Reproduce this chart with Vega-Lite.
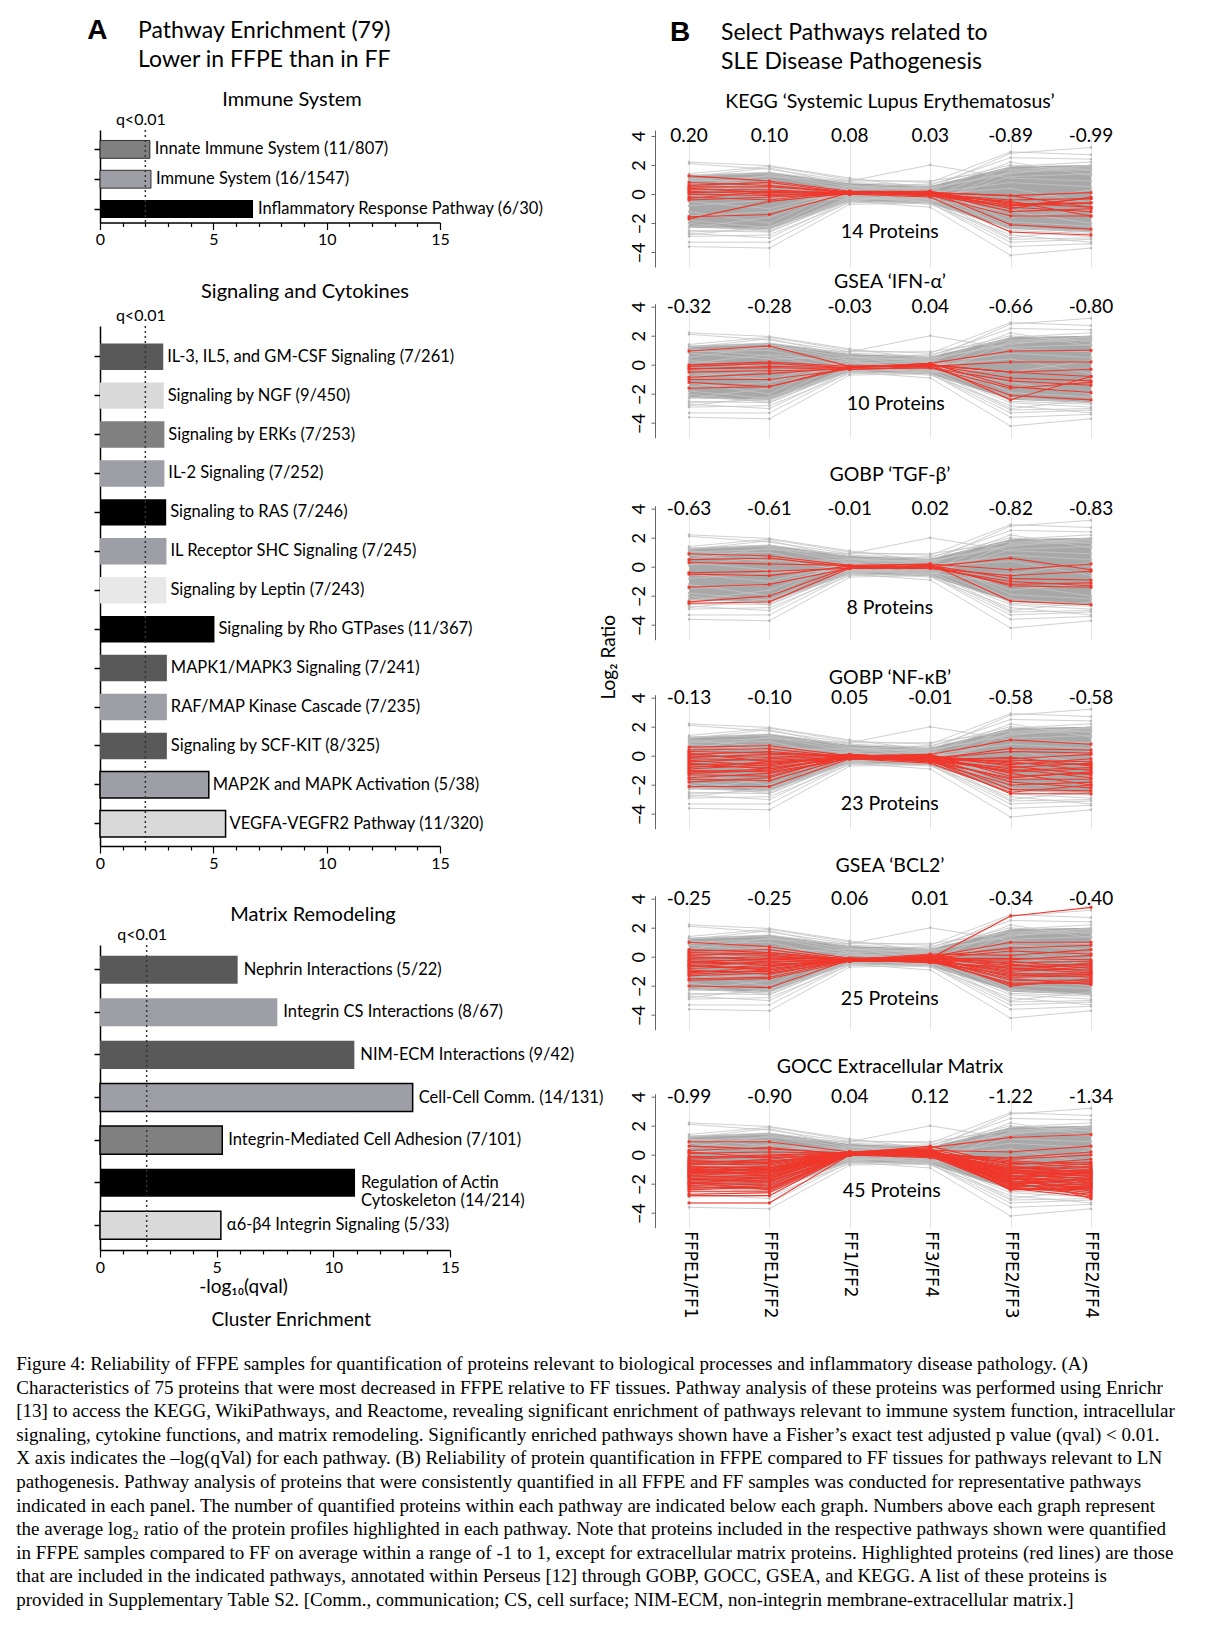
{
"$schema": "https://vega.github.io/schema/vega-lite/v6.json",
"padding": {"left": 16, "top": 17, "right": 0, "bottom": 0},
"background": "white",
"config": {"font": "Lato", "view": {"stroke": null}, "title": {"fontWeight": "normal", "color": "#000"}, "axis": {"labelColor": "#000", "titleColor": "#000"}, "axisY": {"labelOverlap": false}},
"title": {"text": [
"Figure 4: Reliability of FFPE samples for quantification of proteins relevant to biological processes and inflammatory disease pathology. (A)",
"Characteristics of 75 proteins that were most decreased in FFPE relative to FF tissues. Pathway analysis of these proteins was performed using Enrichr",
"[13] to access the KEGG, WikiPathways, and Reactome, revealing significant enrichment of pathways relevant to immune system function, intracellular",
"signaling, cytokine functions, and matrix remodeling. Significantly enriched pathways shown have a Fisher’s exact test adjusted p value (qval) < 0.01.",
"X axis indicates the –log(qVal) for each pathway. (B) Reliability of protein quantification in FFPE compared to FF tissues for pathways relevant to LN",
"pathogenesis. Pathway analysis of proteins that were consistently quantified in all FFPE and FF samples was conducted for representative pathways",
"indicated in each panel. The number of quantified proteins within each pathway are indicated below each graph. Numbers above each graph represent",
"the average log₂ ratio of the protein profiles highlighted in each pathway. Note that proteins included in the respective pathways shown were quantified",
"in FFPE samples compared to FF on average within a range of -1 to 1, except for extracellular matrix proteins. Highlighted proteins (red lines) are those",
"that are included in the indicated pathways, annotated within Perseus [12] through GOBP, GOCC, GSEA, and KEGG. A list of these proteins is",
"provided in Supplementary Table S2. [Comm., communication; CS, cell surface; NIM-ECM, non-integrin membrane-extracellular matrix.]"],
"orient": "bottom", "anchor": "start", "font": "Liberation Serif", "fontSize": 19, "lineHeight": 23.6, "offset": 25, "dx": -71, "fontWeight": "normal", "color": "#000"},
"datasets": {
"immune": [
{"pathway": "Innate Immune System (11/807)", "q": 2.2, "shade": "mid", "ol": 1},
{"pathway": "Immune System (16/1547)", "q": 2.25, "shade": "blue", "ol": 1},
{"pathway": "Inflammatory Response Pathway (6/30)", "q": 6.75, "shade": "black", "ol": 0}],
"signal": [
{"pathway": "IL-3, IL5, and GM-CSF Signaling (7/261)", "q": 2.79, "shade": "dark", "ol": 0},
{"pathway": "Signaling by NGF (9/450)", "q": 2.81, "shade": "light", "ol": 0},
{"pathway": "Signaling by ERKs (7/253)", "q": 2.84, "shade": "mid", "ol": 0},
{"pathway": "IL-2 Signaling (7/252)", "q": 2.84, "shade": "blue", "ol": 0},
{"pathway": "Signaling to RAS (7/246)", "q": 2.92, "shade": "black", "ol": 0},
{"pathway": "IL Receptor SHC Signaling (7/245)", "q": 2.93, "shade": "blue", "ol": 0},
{"pathway": "Signaling by Leptin (7/243)", "q": 2.93, "shade": "pale", "ol": 0},
{"pathway": "Signaling by Rho GTPases (11/367)", "q": 5.05, "shade": "black", "ol": 0},
{"pathway": "MAPK1/MAPK3 Signaling (7/241)", "q": 2.95, "shade": "dark", "ol": 0},
{"pathway": "RAF/MAP Kinase Cascade (7/235)", "q": 2.95, "shade": "blue", "ol": 0},
{"pathway": "Signaling by SCF-KIT (8/325)", "q": 2.95, "shade": "dark", "ol": 0},
{"pathway": "MAP2K and MAPK Activation (5/38)", "q": 4.8, "shade": "blue", "ol": 2},
{"pathway": "VEGFA-VEGFR2 Pathway (11/320)", "q": 5.54, "shade": "light", "ol": 2}],
"matrix": [
{"pathway": "Nephrin Interactions (5/22)", "q": 5.9, "shade": "dark", "ol": 0},
{"pathway": "Integrin CS Interactions (8/67)", "q": 7.6, "shade": "blue", "ol": 0},
{"pathway": "NIM-ECM Interactions (9/42)", "q": 10.9, "shade": "dark", "ol": 0},
{"pathway": "Cell-Cell Comm. (14/131)", "q": 13.4, "shade": "blue", "ol": 2},
{"pathway": "Integrin-Mediated Cell Adhesion (7/101)", "q": 5.24, "shade": "mid", "ol": 2},
{"pathway": "Regulation of Actin\nCytoskeleton (14/214)", "q": 10.93, "shade": "black", "ol": 0},
{"pathway": "α6-β4 Integrin Signaling (5/33)", "q": 5.18, "shade": "light", "ol": 2}],
"band": [
{"c": "c1", "lo": -2.3, "hi": 1.3}, {"c": "c2", "lo": -2.4, "hi": 1.5}, {"c": "c3", "lo": -0.5, "hi": 0.75},
{"c": "c4", "lo": -0.65, "hi": 0.55}, {"c": "c5", "lo": -2.4, "hi": 1.9}, {"c": "c6", "lo": -2.6, "hi": 2.0}],
"bg": [
{"id": 1, "c1": 2.2, "c2": 1.95, "c3": 1.1, "c4": 0.4, "c5": 2.8, "c6": 3.2},
{"id": 2, "c1": 2.1, "c2": 1.7, "c3": 0.9, "c4": 2.0, "c5": 1.1, "c6": 0.9},
{"id": 3, "c1": 1.4, "c2": 1.9, "c3": 1.0, "c4": 0.8, "c5": 2.9, "c6": 2.7},
{"id": 4, "c1": 1.3, "c2": 1.5, "c3": 0.8, "c4": 0.6, "c5": 2.5, "c6": 2.4},
{"id": 5, "c1": 1.2, "c2": 1.8, "c3": 0.6, "c4": -0.2, "c5": 1.9, "c6": 2.2},
{"id": 6, "c1": 1.0, "c2": 1.2, "c3": 0.9, "c4": 0.9, "c5": 1.7, "c6": 1.9},
{"id": 7, "c1": 0.8, "c2": 0.4, "c3": 0.5, "c4": 0.7, "c5": 2.0, "c6": 1.6},
{"id": 8, "c1": 0.5, "c2": 1.3, "c3": 0.3, "c4": 0.4, "c5": 1.4, "c6": 2.0},
{"id": 9, "c1": -3.3, "c2": -3.3, "c3": -0.5, "c4": -0.9, "c5": -4.2, "c6": -3.7},
{"id": 10, "c1": -3.6, "c2": -3.7, "c3": -0.7, "c4": -0.6, "c5": -3.6, "c6": -3.4},
{"id": 11, "c1": -2.9, "c2": -2.8, "c3": -0.6, "c4": -0.5, "c5": -3.1, "c6": -3.0},
{"id": 12, "c1": -2.7, "c2": -3.0, "c3": -0.4, "c4": -0.7, "c5": -2.8, "c6": -3.3},
{"id": 13, "c1": -2.5, "c2": -2.6, "c3": -0.3, "c4": -0.4, "c5": -2.6, "c6": -2.9},
{"id": 14, "c1": -2.8, "c2": -2.2, "c3": -0.5, "c4": 0.2, "c5": -2.2, "c6": -2.6},
{"id": 15, "c1": -2.2, "c2": -2.5, "c3": -0.2, "c4": -0.3, "c5": -3.0, "c6": -2.4},
{"id": 16, "c1": -1.8, "c2": -2.3, "c3": 0.2, "c4": -0.6, "c5": 1.6, "c6": 1.8},
{"id": 17, "c1": 1.1, "c2": 0.6, "c3": -0.3, "c4": 0.3, "c5": -2.5, "c6": -2.7},
{"id": 18, "c1": -2.3, "c2": -1.6, "c3": 0.4, "c4": 0.5, "c5": -1.9, "c6": -2.2},
{"id": 19, "c1": 0.9, "c2": 1.0, "c3": -0.2, "c4": -0.5, "c5": 1.2, "c6": 1.4},
{"id": 20, "c1": -1.2, "c2": -2.0, "c3": 0.6, "c4": 0.2, "c5": 2.2, "c6": 1.3},
{"id": 21, "c1": -0.5, "c2": -1.0, "c3": 0.3, "c4": -0.4, "c5": -1.2, "c6": -2.0},
{"id": 22, "c1": 0.3, "c2": -0.2, "c3": -0.4, "c4": 0.1, "c5": 0.8, "c6": 0.5},
{"id": 23, "c1": -1.5, "c2": -1.2, "c3": 0.1, "c4": 0.3, "c5": -1.6, "c6": -1.1},
{"id": 24, "c1": 0.1, "c2": 0.7, "c3": 0.2, "c4": -0.2, "c5": -0.5, "c6": 0.3},
{"id": 25, "c1": -0.8, "c2": -0.4, "c3": -0.1, "c4": 0.0, "c5": 0.4, "c6": -0.6},
{"id": 26, "c1": 1.25, "c2": 1.4, "c3": 0.5, "c4": 0.4, "c5": 1.5, "c6": 1.7},
{"id": 27, "c1": -2.0, "c2": -2.6, "c3": -0.4, "c4": -0.2, "c5": -2.3, "c6": -2.6},
{"id": 28, "c1": -2.6, "c2": -2.4, "c3": -0.2, "c4": -0.6, "c5": -3.3, "c6": -3.1}]
},
"spacing": -5,
"hconcat": [
{
"title": {"text": "A", "anchor": "start", "font": "Liberation Sans", "fontSize": 28, "fontWeight": "bold", "offset": -25, "dx": -6},
"vconcat": [{
"title": {"text": ["Pathway Enrichment (79)", "Lower in FFPE than in FF"], "fontSize": 23, "lineHeight": 29, "offset": 18, "anchor": "start", "align": "center", "dx": 171},
"vconcat": [{
"title": {"text": "Cluster Enrichment", "orient": "bottom", "fontSize": 19, "offset": 15, "anchor": "start", "align": "center", "dx": 198},
"spacing": 34,
"vconcat": [
{
"width": 340, "height": 92.5,
"title": {"text": "Immune System", "fontSize": 20, "offset": 1, "frame": "group", "anchor": "start", "align": "center", "dx": 192},
"data": {"name": "immune"},
"resolve": {"axis": {"x": "independent"}},
"layer": [
{"mark": {"type": "bar", "stroke": "#000"},
"encoding": {
"y": {"field": "pathway", "type": "nominal", "sort": null, "scale": {"paddingInner": 0.4, "paddingOuter": 0.25, "align": 0.7}, "axis": {"title": null, "labels": false, "domainColor": "#000", "domainWidth": 1.5, "tickColor": "#000", "tickWidth": 1.5, "tickSize": 6}},
"x": {"field": "q", "type": "quantitative", "scale": {"domain": [0, 15], "nice": false}, "axis": {"title": null, "values": [0,1,2,3,4,5,6,7,8,9,10,11,12,13,14,15], "labelExpr": "datum.value % 5 === 0 ? datum.label : ''", "tickSize": {"condition": {"test": "datum.value % 5 === 0", "value": 7}, "value": 4}, "domainColor": "#000", "domainWidth": 1.5, "tickColor": "#000", "tickWidth": 1.2, "labelFontSize": 16, "grid": false, "labelOverlap": false, "labelPadding": 2, "labelFlush": false}},
"fill": {"field": "shade", "type": "nominal", "scale": {"domain": ["dark", "mid", "blue", "light", "pale", "black"], "range": ["#595959", "#808080", "#9e9ea6", "#d9d9d9", "#e8e8e8", "#000000"]}, "legend": null},
"strokeWidth": {"field": "ol", "type": "ordinal", "scale": {"domain": [0, 1, 2], "range": [0, 1.5, 3]}, "legend": null}}},
{"mark": {"type": "text", "align": "left", "baseline": "middle", "dx": 5, "fontSize": 16.5},
"encoding": {"y": {"field": "pathway", "type": "nominal", "sort": null}, "x": {"field": "q", "type": "quantitative", "axis": null}, "text": {"field": "pathway"}}},
{"data": {"values": [{}]}, "mark": {"type": "rule", "strokeDash": [2, 3], "color": "#333", "strokeWidth": 1.5},
"encoding": {"x": {"datum": 2, "type": "quantitative", "axis": {"orient": "top", "values": [2], "labelExpr": "'q<0.01'", "domain": false, "ticks": false, "grid": false, "title": null, "labelFontSize": 16, "labelPadding": 3, "labelOffset": -5}}}}
]
},
{
"width": 340, "height": 520,
"title": {"text": "Signaling and Cytokines", "fontSize": 20, "offset": 5, "frame": "group", "anchor": "start", "align": "center", "dx": 205},
"data": {"name": "signal"},
"resolve": {"axis": {"x": "independent"}},
"layer": [
{"mark": {"type": "bar", "stroke": "#000"},
"encoding": {
"y": {"field": "pathway", "type": "nominal", "sort": null, "scale": {"paddingInner": 0.32, "paddingOuter": 0.34, "align": 0.66}, "axis": {"title": null, "labels": false, "domainColor": "#000", "domainWidth": 1.5, "tickColor": "#000", "tickWidth": 1.5, "tickSize": 6}},
"x": {"field": "q", "type": "quantitative", "scale": {"domain": [0, 15], "nice": false}, "axis": {"title": null, "values": [0,1,2,3,4,5,6,7,8,9,10,11,12,13,14,15], "labelExpr": "datum.value % 5 === 0 ? datum.label : ''", "tickSize": {"condition": {"test": "datum.value % 5 === 0", "value": 7}, "value": 4}, "domainColor": "#000", "domainWidth": 1.5, "tickColor": "#000", "tickWidth": 1.2, "labelFontSize": 16, "grid": false, "labelOverlap": false, "labelPadding": 2, "labelFlush": false}},
"fill": {"field": "shade", "type": "nominal", "scale": {"domain": ["dark", "mid", "blue", "light", "pale", "black"], "range": ["#595959", "#808080", "#9e9ea6", "#d9d9d9", "#e8e8e8", "#000000"]}, "legend": null},
"strokeWidth": {"field": "ol", "type": "ordinal", "scale": {"domain": [0, 1, 2], "range": [0, 1.5, 3]}, "legend": null}}},
{"mark": {"type": "text", "align": "left", "baseline": "middle", "dx": 4, "fontSize": 16.5},
"encoding": {"y": {"field": "pathway", "type": "nominal", "sort": null}, "x": {"field": "q", "type": "quantitative", "axis": null}, "text": {"field": "pathway"}}},
{"data": {"values": [{}]}, "mark": {"type": "rule", "strokeDash": [2, 3], "color": "#333", "strokeWidth": 1.5},
"encoding": {"x": {"datum": 2, "type": "quantitative", "axis": {"orient": "top", "values": [2], "labelExpr": "'q<0.01'", "domain": false, "ticks": false, "grid": false, "title": null, "labelFontSize": 16, "labelPadding": 3, "labelOffset": -5}}}}
]
},
{
"width": 350, "height": 305,
"title": {"text": "Matrix Remodeling", "fontSize": 20, "offset": 1, "frame": "group", "anchor": "start", "align": "center", "dx": 213},
"data": {"name": "matrix"},
"resolve": {"axis": {"x": "independent"}},
"layer": [
{"mark": {"type": "bar", "stroke": "#000"},
"encoding": {
"y": {"field": "pathway", "type": "nominal", "sort": null, "scale": {"paddingInner": 0.34, "paddingOuter": 0.25}, "axis": {"title": null, "labels": false, "domainColor": "#000", "domainWidth": 1.5, "tickColor": "#000", "tickWidth": 1.5, "tickSize": 6}},
"x": {"field": "q", "type": "quantitative", "scale": {"domain": [0, 15], "nice": false}, "axis": {"title": "-log₁₀(qval)", "titleFontSize": 19, "titleFontWeight": "normal", "titlePadding": 2, "titleX": 143, "values": [0,1,2,3,4,5,6,7,8,9,10,11,12,13,14,15], "labelExpr": "datum.value % 5 === 0 ? datum.label : ''", "tickSize": {"condition": {"test": "datum.value % 5 === 0", "value": 7}, "value": 4}, "domainColor": "#000", "domainWidth": 1.5, "tickColor": "#000", "tickWidth": 1.2, "labelFontSize": 16, "grid": false, "labelOverlap": false, "labelPadding": 2, "labelFlush": false}},
"fill": {"field": "shade", "type": "nominal", "scale": {"domain": ["dark", "mid", "blue", "light", "pale", "black"], "range": ["#595959", "#808080", "#9e9ea6", "#d9d9d9", "#e8e8e8", "#000000"]}, "legend": null},
"strokeWidth": {"field": "ol", "type": "ordinal", "scale": {"domain": [0, 1, 2], "range": [0, 1.5, 3]}, "legend": null}}},
{"mark": {"type": "text", "align": "left", "baseline": "middle", "dx": 6, "fontSize": 16.5, "lineBreak": "\n"},
"encoding": {"y": {"field": "pathway", "type": "nominal", "sort": null}, "x": {"field": "q", "type": "quantitative", "axis": null}, "text": {"field": "pathway"}}},
{"data": {"values": [{}]}, "mark": {"type": "rule", "strokeDash": [2, 3], "color": "#333", "strokeWidth": 1.5},
"encoding": {"x": {"datum": 2, "type": "quantitative", "axis": {"orient": "top", "values": [2], "labelExpr": "'q<0.01'", "domain": false, "ticks": false, "grid": false, "title": null, "labelFontSize": 16, "labelPadding": 3, "labelOffset": -5}}}}
]
}
]
}]
}]
},
{
"title": {"text": "B", "anchor": "start", "font": "Liberation Sans", "fontSize": 28, "fontWeight": "bold", "offset": -25, "dx": 70},
"vconcat": [{
"title": {"text": ["Select Pathways related to", "SLE Disease Pathogenesis"], "fontSize": 23, "lineHeight": 29, "offset": 18, "dx": 121},
"vconcat": [{
"title": {"text": "Log₂ Ratio", "orient": "left", "anchor": "middle", "fontSize": 19, "offset": 11, "dx": 48},
"spacing": 4.7,
"vconcat": [
{
"width": 470, "height": 137,
"title": {"text": "KEGG ‘Systemic Lupus Erythematosus’", "fontSize": 19.5, "offset": 14},
"resolve": {"axis": {"y": "independent"}},
"layer": [
{"data": {"name": "band"}, "mark": {"type": "area", "color": "#a8a8a8"},
"encoding": {"x": {"field": "c", "type": "nominal", "scale": {"type": "point", "domain": ["c1","c2","c3","c4","c5","c6"], "padding": 0.423}, "axis": {"title": null, "labels": false, "ticks": false, "domain": false, "grid": true, "gridColor": "#e4e4e4"}},
"y": {"field": "lo", "type": "quantitative", "scale": {"domain": [-5, 4.4], "nice": false, "zero": false}, "axis": {"title": null, "values": [-4,-2,0,2,4], "grid": false, "labelOverlap": false, "labelAngle": -90, "labelAlign": "center", "labelBaseline": "bottom", "labelFontSize": 18, "labelPadding": 3, "tickSize": 4, "domainColor": "#666", "tickColor": "#666"}},
"y2": {"field": "hi"}}},
{"data": {"name": "bg"}, "transform": [{"fold": ["c1","c2","c3","c4","c5","c6"], "as": ["c", "v"]}],
"mark": {"type": "line", "color": "#c4c4c4", "strokeWidth": 0.8, "point": {"shape": "square", "size": 5, "color": "#b8b8b8"}},
"encoding": {"x": {"field": "c", "type": "nominal"}, "y": {"field": "v", "type": "quantitative", "axis": null}, "detail": {"field": "id"}}},
{"data": {"values": [
{"id":1,"c1":1.25,"c2":0.9,"c3":0.2,"c4":0.1,"c5":-0.1,"c6":0.1},
{"id":2,"c1":0.6,"c2":0.8,"c3":0.1,"c4":0.2,"c5":-0.7,"c6":-0.6},
{"id":3,"c1":0.5,"c2":0.5,"c3":0.15,"c4":0.0,"c5":-0.8,"c6":-0.3},
{"id":4,"c1":0.3,"c2":0.3,"c3":0.0,"c4":0.1,"c5":-1.2,"c6":-1.0},
{"id":5,"c1":0.0,"c2":-0.1,"c3":0.1,"c4":-0.1,"c5":-1.5,"c6":-1.5},
{"id":6,"c1":-0.2,"c2":-0.4,"c3":0.2,"c4":0.2,"c5":-2.1,"c6":-2.4},
{"id":7,"c1":-0.4,"c2":-0.2,"c3":0.0,"c4":-0.2,"c5":-2.6,"c6":-2.8},
{"id":8,"c1":-1.55,"c2":-1.4,"c3":0.1,"c4":0.0,"c5":-0.8,"c6":-0.6},
{"id":9,"c1":-1.7,"c2":-0.5,"c3":0.05,"c4":0.1,"c5":-0.1,"c6":-0.9},
{"id":10,"c1":0.8,"c2":0.6,"c3":0.1,"c4":-0.1,"c5":-0.5,"c6":-1.5},
{"id":11,"c1":0.2,"c2":0.0,"c3":0.0,"c4":0.2,"c5":-1.0,"c6":-0.2},
{"id":12,"c1":0.4,"c2":0.1,"c3":0.1,"c4":0.0,"c5":-0.4,"c6":-0.3},
{"id":13,"c1":0.1,"c2":0.2,"c3":0.2,"c4":-0.1,"c5":-0.9,"c6":-1.2},
{"id":14,"c1":-0.3,"c2":0.2,"c3":0.0,"c4":0.1,"c5":-0.6,"c6":-0.9}]},
"transform": [{"fold": ["c1","c2","c3","c4","c5","c6"], "as": ["c", "v"]}],
"mark": {"type": "line", "color": "#f0372b", "strokeWidth": 1.1, "point": {"shape": "square", "size": 8, "color": "#f0372b"}},
"encoding": {"x": {"field": "c", "type": "nominal"}, "y": {"field": "v", "type": "quantitative", "axis": null}, "detail": {"field": "id"}}},
{"data": {"values": [{"c":"c1","t":"0.20"},{"c":"c2","t":"0.10"},{"c":"c3","t":"0.08"},{"c":"c4","t":"0.03"},{"c":"c5","t":"-0.89"},{"c":"c6","t":"-0.99"}]},
"mark": {"type": "text", "fontSize": 19}, "encoding": {"x": {"field": "c", "type": "nominal"}, "y": {"datum": 4.0, "type": "quantitative", "axis": null}, "text": {"field": "t"}}},
{"data": {"values": [{"n": "14 Proteins"}]}, "mark": {"type": "text", "fontSize": 19.5, "dx": 40},
"encoding": {"x": {"datum": "c3", "type": "nominal"}, "y": {"datum": -2.6, "type": "quantitative", "axis": null}, "text": {"field": "n"}}}
]
},
{
"spacing": 27,
"vconcat": [
{
"width": 470, "height": 134,
"title": {"text": "GSEA ‘IFN-α’", "fontSize": 19.5, "offset": 4.7},
"resolve": {"axis": {"y": "independent"}},
"layer": [
{"data": {"name": "band"}, "mark": {"type": "area", "color": "#a8a8a8"},
"encoding": {"x": {"field": "c", "type": "nominal", "scale": {"type": "point", "domain": ["c1","c2","c3","c4","c5","c6"], "padding": 0.423}, "axis": {"title": null, "labels": false, "ticks": false, "domain": false, "grid": true, "gridColor": "#e4e4e4"}},
"y": {"field": "lo", "type": "quantitative", "scale": {"domain": [-5, 4.2], "nice": false, "zero": false}, "axis": {"title": null, "values": [-4,-2,0,2,4], "grid": false, "labelOverlap": false, "labelAngle": -90, "labelAlign": "center", "labelBaseline": "bottom", "labelFontSize": 18, "labelPadding": 3, "tickSize": 4, "domainColor": "#666", "tickColor": "#666"}},
"y2": {"field": "hi"}}},
{"data": {"name": "bg"}, "transform": [{"fold": ["c1","c2","c3","c4","c5","c6"], "as": ["c", "v"]}],
"mark": {"type": "line", "color": "#c4c4c4", "strokeWidth": 0.8, "point": {"shape": "square", "size": 5, "color": "#b8b8b8"}},
"encoding": {"x": {"field": "c", "type": "nominal"}, "y": {"field": "v", "type": "quantitative", "axis": null}, "detail": {"field": "id"}}},
{"data": {"values": [
{"id":1,"c1":0.95,"c2":1.3,"c3":-0.1,"c4":0.0,"c5":-0.5,"c6":-0.8},
{"id":2,"c1":-0.1,"c2":0.1,"c3":-0.2,"c4":0.1,"c5":0.95,"c6":1.0},
{"id":3,"c1":-0.25,"c2":-0.2,"c3":-0.3,"c4":-0.1,"c5":0.2,"c6":0.2},
{"id":4,"c1":-0.85,"c2":-0.6,"c3":-0.2,"c4":0.0,"c5":-0.9,"c6":-1.1},
{"id":5,"c1":-1.0,"c2":-1.0,"c3":-0.3,"c4":-0.2,"c5":-1.1,"c6":-1.4},
{"id":6,"c1":-1.2,"c2":-1.5,"c3":-0.2,"c4":0.1,"c5":-1.5,"c6":-1.9},
{"id":7,"c1":-1.6,"c2":-1.5,"c3":-0.1,"c4":-0.1,"c5":-2.1,"c6":-2.4},
{"id":8,"c1":-0.3,"c2":-0.1,"c3":-0.2,"c4":0.0,"c5":-0.5,"c6":-0.3},
{"id":9,"c1":-0.5,"c2":-0.4,"c3":-0.3,"c4":-0.2,"c5":-1.6,"c6":-1.2},
{"id":10,"c1":0.0,"c2":0.2,"c3":-0.1,"c4":0.05,"c5":-2.4,"c6":-0.8}]},
"transform": [{"fold": ["c1","c2","c3","c4","c5","c6"], "as": ["c", "v"]}],
"mark": {"type": "line", "color": "#f0372b", "strokeWidth": 1.1, "point": {"shape": "square", "size": 8, "color": "#f0372b"}},
"encoding": {"x": {"field": "c", "type": "nominal"}, "y": {"field": "v", "type": "quantitative", "axis": null}, "detail": {"field": "id"}}},
{"data": {"values": [{"c":"c1","t":"-0.32"},{"c":"c2","t":"-0.28"},{"c":"c3","t":"-0.03"},{"c":"c4","t":"0.04"},{"c":"c5","t":"-0.66"},{"c":"c6","t":"-0.80"}]},
"mark": {"type": "text", "fontSize": 19}, "encoding": {"x": {"field": "c", "type": "nominal"}, "y": {"datum": 4.0, "type": "quantitative", "axis": null}, "text": {"field": "t"}}},
{"data": {"values": [{"n": "10 Proteins"}]}, "mark": {"type": "text", "fontSize": 19.5, "dx": 46},
"encoding": {"x": {"datum": "c3", "type": "nominal"}, "y": {"datum": -2.7, "type": "quantitative", "axis": null}, "text": {"field": "n"}}}
]
},
{
"width": 470, "height": 134,
"title": {"text": "GOBP ‘TGF-β’", "fontSize": 19.5, "offset": 14},
"resolve": {"axis": {"y": "independent"}},
"layer": [
{"data": {"name": "band"}, "mark": {"type": "area", "color": "#a8a8a8"},
"encoding": {"x": {"field": "c", "type": "nominal", "scale": {"type": "point", "domain": ["c1","c2","c3","c4","c5","c6"], "padding": 0.423}, "axis": {"title": null, "labels": false, "ticks": false, "domain": false, "grid": true, "gridColor": "#e4e4e4"}},
"y": {"field": "lo", "type": "quantitative", "scale": {"domain": [-5, 4.2], "nice": false, "zero": false}, "axis": {"title": null, "values": [-4,-2,0,2,4], "grid": false, "labelOverlap": false, "labelAngle": -90, "labelAlign": "center", "labelBaseline": "bottom", "labelFontSize": 18, "labelPadding": 3, "tickSize": 4, "domainColor": "#666", "tickColor": "#666"}},
"y2": {"field": "hi"}}},
{"data": {"name": "bg"}, "transform": [{"fold": ["c1","c2","c3","c4","c5","c6"], "as": ["c", "v"]}],
"mark": {"type": "line", "color": "#c4c4c4", "strokeWidth": 0.8, "point": {"shape": "square", "size": 5, "color": "#b8b8b8"}},
"encoding": {"x": {"field": "c", "type": "nominal"}, "y": {"field": "v", "type": "quantitative", "axis": null}, "detail": {"field": "id"}}},
{"data": {"values": [
{"id":1,"c1":0.9,"c2":0.75,"c3":0.1,"c4":0.2,"c5":-0.2,"c6":0.2},
{"id":2,"c1":0.5,"c2":0.6,"c3":0.0,"c4":0.0,"c5":0.6,"c6":-0.2},
{"id":3,"c1":-0.4,"c2":-0.3,"c3":-0.1,"c4":0.1,"c5":-0.8,"c6":-0.9},
{"id":4,"c1":-0.5,"c2":-0.6,"c3":0.05,"c4":0.0,"c5":-1.2,"c6":-1.1},
{"id":5,"c1":-1.4,"c2":-1.2,"c3":-0.1,"c4":0.1,"c5":-1.3,"c6":-1.4},
{"id":6,"c1":-2.4,"c2":-2.0,"c3":0.0,"c4":0.2,"c5":-2.35,"c6":-2.6},
{"id":7,"c1":-2.5,"c2":-2.4,"c3":-0.1,"c4":-0.1,"c5":-1.0,"c6":-1.3},
{"id":8,"c1":0.3,"c2":0.2,"c3":0.1,"c4":-0.1,"c5":-0.6,"c6":-0.3}]},
"transform": [{"fold": ["c1","c2","c3","c4","c5","c6"], "as": ["c", "v"]}],
"mark": {"type": "line", "color": "#f0372b", "strokeWidth": 1.1, "point": {"shape": "square", "size": 8, "color": "#f0372b"}},
"encoding": {"x": {"field": "c", "type": "nominal"}, "y": {"field": "v", "type": "quantitative", "axis": null}, "detail": {"field": "id"}}},
{"data": {"values": [{"c":"c1","t":"-0.63"},{"c":"c2","t":"-0.61"},{"c":"c3","t":"-0.01"},{"c":"c4","t":"0.02"},{"c":"c5","t":"-0.82"},{"c":"c6","t":"-0.83"}]},
"mark": {"type": "text", "fontSize": 19}, "encoding": {"x": {"field": "c", "type": "nominal"}, "y": {"datum": 4.0, "type": "quantitative", "axis": null}, "text": {"field": "t"}}},
{"data": {"values": [{"n": "8 Proteins"}]}, "mark": {"type": "text", "fontSize": 19.5, "dx": 40},
"encoding": {"x": {"datum": "c3", "type": "nominal"}, "y": {"datum": -2.8, "type": "quantitative", "axis": null}, "text": {"field": "n"}}}
]
},
{
"width": 470, "height": 134,
"title": {"text": "GOBP ‘NF-κB’", "fontSize": 19.5, "offset": 0.5},
"resolve": {"axis": {"y": "independent"}},
"layer": [
{"data": {"name": "band"}, "mark": {"type": "area", "color": "#a8a8a8"},
"encoding": {"x": {"field": "c", "type": "nominal", "scale": {"type": "point", "domain": ["c1","c2","c3","c4","c5","c6"], "padding": 0.423}, "axis": {"title": null, "labels": false, "ticks": false, "domain": false, "grid": true, "gridColor": "#e4e4e4"}},
"y": {"field": "lo", "type": "quantitative", "scale": {"domain": [-5, 4.2], "nice": false, "zero": false}, "axis": {"title": null, "values": [-4,-2,0,2,4], "grid": false, "labelOverlap": false, "labelAngle": -90, "labelAlign": "center", "labelBaseline": "bottom", "labelFontSize": 18, "labelPadding": 3, "tickSize": 4, "domainColor": "#666", "tickColor": "#666"}},
"y2": {"field": "hi"}}},
{"data": {"name": "bg"}, "transform": [{"fold": ["c1","c2","c3","c4","c5","c6"], "as": ["c", "v"]}],
"mark": {"type": "line", "color": "#c4c4c4", "strokeWidth": 0.8, "point": {"shape": "square", "size": 5, "color": "#b8b8b8"}},
"encoding": {"x": {"field": "c", "type": "nominal"}, "y": {"field": "v", "type": "quantitative", "axis": null}, "detail": {"field": "id"}}},
{"data": {"values": [
{"id":1,"c1":0.6,"c2":0.7,"c3":0.0,"c4":0.1,"c5":1.1,"c6":0.8},
{"id":2,"c1":0.4,"c2":0.5,"c3":-0.1,"c4":-0.2,"c5":0.3,"c6":0.2},
{"id":3,"c1":0.3,"c2":0.2,"c3":0.0,"c4":-0.3,"c5":-0.3,"c6":-0.4},
{"id":4,"c1":0.1,"c2":0.3,"c3":-0.1,"c4":0.0,"c5":-0.5,"c6":-0.6},
{"id":5,"c1":0.0,"c2":-0.1,"c3":0.1,"c4":-0.2,"c5":-0.2,"c6":0.1},
{"id":6,"c1":-0.2,"c2":-0.3,"c3":-0.1,"c4":-0.4,"c5":-0.8,"c6":-0.5},
{"id":7,"c1":-0.4,"c2":-0.2,"c3":0.0,"c4":-0.1,"c5":-0.4,"c6":-1.0},
{"id":8,"c1":-0.6,"c2":-0.5,"c3":-0.2,"c4":-0.3,"c5":-1.0,"c6":-0.8},
{"id":9,"c1":-0.7,"c2":-0.8,"c3":-0.1,"c4":0.1,"c5":-1.4,"c6":-1.2},
{"id":10,"c1":-0.9,"c2":-0.6,"c3":0.0,"c4":-0.2,"c5":-0.9,"c6":-1.5},
{"id":11,"c1":-1.0,"c2":-1.1,"c3":-0.2,"c4":-0.3,"c5":-1.6,"c6":-1.6},
{"id":12,"c1":-1.1,"c2":-0.9,"c3":-0.1,"c4":0.0,"c5":-1.2,"c6":-2.0},
{"id":13,"c1":-1.3,"c2":-1.4,"c3":0.0,"c4":-0.4,"c5":-2.0,"c6":-1.8},
{"id":14,"c1":-1.5,"c2":-1.2,"c3":-0.2,"c4":-0.1,"c5":-1.8,"c6":-2.2},
{"id":15,"c1":-1.6,"c2":-1.7,"c3":-0.1,"c4":-0.3,"c5":-2.6,"c6":-2.6},
{"id":16,"c1":-1.8,"c2":-1.5,"c3":0.1,"c4":-0.2,"c5":-2.3,"c6":-2.4},
{"id":17,"c1":-2.1,"c2":-2.1,"c3":-0.2,"c4":-0.5,"c5":-2.5,"c6":-2.0},
{"id":18,"c1":-0.1,"c2":0.1,"c3":0.0,"c4":-0.2,"c5":0.5,"c6":0.4},
{"id":19,"c1":0.2,"c2":-0.4,"c3":-0.1,"c4":-0.1,"c5":-0.6,"c6":-0.2},
{"id":20,"c1":-0.3,"c2":-0.7,"c3":0.1,"c4":-0.3,"c5":-0.1,"c6":-0.7},
{"id":21,"c1":-0.8,"c2":-0.4,"c3":-0.2,"c4":-0.2,"c5":-1.1,"c6":-0.9},
{"id":22,"c1":-1.2,"c2":-1.0,"c3":0.0,"c4":0.0,"c5":-0.7,"c6":-1.3},
{"id":23,"c1":-0.5,"c2":-0.9,"c3":-0.1,"c4":-0.4,"c5":-1.5,"c6":-1.1}]},
"transform": [{"fold": ["c1","c2","c3","c4","c5","c6"], "as": ["c", "v"]}],
"mark": {"type": "line", "color": "#f0372b", "strokeWidth": 1.1, "point": {"shape": "square", "size": 8, "color": "#f0372b"}},
"encoding": {"x": {"field": "c", "type": "nominal"}, "y": {"field": "v", "type": "quantitative", "axis": null}, "detail": {"field": "id"}}},
{"data": {"values": [{"c":"c1","t":"-0.13"},{"c":"c2","t":"-0.10"},{"c":"c3","t":"0.05"},{"c":"c4","t":"-0.01"},{"c":"c5","t":"-0.58"},{"c":"c6","t":"-0.58"}]},
"mark": {"type": "text", "fontSize": 19}, "encoding": {"x": {"field": "c", "type": "nominal"}, "y": {"datum": 4.0, "type": "quantitative", "axis": null}, "text": {"field": "t"}}},
{"data": {"values": [{"n": "23 Proteins"}]}, "mark": {"type": "text", "fontSize": 19.5, "dx": 40},
"encoding": {"x": {"datum": "c3", "type": "nominal"}, "y": {"datum": -3.3, "type": "quantitative", "axis": null}, "text": {"field": "n"}}}
]
},
{
"width": 470, "height": 134,
"title": {"text": "GSEA ‘BCL2’", "fontSize": 19.5, "offset": 13},
"resolve": {"axis": {"y": "independent"}},
"layer": [
{"data": {"name": "band"}, "mark": {"type": "area", "color": "#a8a8a8"},
"encoding": {"x": {"field": "c", "type": "nominal", "scale": {"type": "point", "domain": ["c1","c2","c3","c4","c5","c6"], "padding": 0.423}, "axis": {"title": null, "labels": false, "ticks": false, "domain": false, "grid": true, "gridColor": "#e4e4e4"}},
"y": {"field": "lo", "type": "quantitative", "scale": {"domain": [-5, 4.2], "nice": false, "zero": false}, "axis": {"title": null, "values": [-4,-2,0,2,4], "grid": false, "labelOverlap": false, "labelAngle": -90, "labelAlign": "center", "labelBaseline": "bottom", "labelFontSize": 18, "labelPadding": 3, "tickSize": 4, "domainColor": "#666", "tickColor": "#666"}},
"y2": {"field": "hi"}}},
{"data": {"name": "bg"}, "transform": [{"fold": ["c1","c2","c3","c4","c5","c6"], "as": ["c", "v"]}],
"mark": {"type": "line", "color": "#c4c4c4", "strokeWidth": 0.8, "point": {"shape": "square", "size": 5, "color": "#b8b8b8"}},
"encoding": {"x": {"field": "c", "type": "nominal"}, "y": {"field": "v", "type": "quantitative", "axis": null}, "detail": {"field": "id"}}},
{"data": {"values": [
{"id":1,"c1":0.3,"c2":0.2,"c3":-0.2,"c4":-0.1,"c5":2.8,"c6":3.4},
{"id":2,"c1":1.0,"c2":0.7,"c3":-0.1,"c4":0.0,"c5":1.0,"c6":1.0},
{"id":3,"c1":0.4,"c2":0.5,"c3":-0.2,"c4":0.2,"c5":0.1,"c6":0.5},
{"id":4,"c1":0.2,"c2":0.1,"c3":-0.3,"c4":-0.2,"c5":-0.2,"c6":0.1},
{"id":5,"c1":0.0,"c2":-0.2,"c3":-0.1,"c4":-0.3,"c5":-0.4,"c6":-0.3},
{"id":6,"c1":-0.2,"c2":-0.3,"c3":-0.2,"c4":-0.1,"c5":-0.6,"c6":-0.5},
{"id":7,"c1":-0.3,"c2":-0.5,"c3":-0.3,"c4":0.1,"c5":-0.8,"c6":-0.9},
{"id":8,"c1":-0.5,"c2":-0.4,"c3":-0.1,"c4":-0.2,"c5":-1.0,"c6":-0.7},
{"id":9,"c1":-0.6,"c2":-0.8,"c3":-0.2,"c4":-0.4,"c5":-1.2,"c6":-1.1},
{"id":10,"c1":-0.8,"c2":-0.6,"c3":-0.3,"c4":0.0,"c5":-1.4,"c6":-1.3},
{"id":11,"c1":-1.0,"c2":-1.0,"c3":-0.2,"c4":-0.2,"c5":-1.6,"c6":-1.6},
{"id":12,"c1":-1.2,"c2":-0.9,"c3":-0.1,"c4":-0.3,"c5":-1.8,"c6":-1.8},
{"id":13,"c1":-1.5,"c2":-1.4,"c3":-0.2,"c4":-0.1,"c5":-2.0,"c6":-1.5},
{"id":14,"c1":-1.6,"c2":-1.5,"c3":-0.3,"c4":-0.3,"c5":-1.3,"c6":-1.2},
{"id":15,"c1":-2.0,"c2":-2.1,"c3":-0.2,"c4":-0.2,"c5":-1.9,"c6":-1.7},
{"id":16,"c1":0.1,"c2":0.3,"c3":-0.2,"c4":-0.1,"c5":0.4,"c6":0.2},
{"id":17,"c1":-0.4,"c2":-0.1,"c3":-0.1,"c4":-0.2,"c5":-0.3,"c6":-0.8},
{"id":18,"c1":-0.7,"c2":-0.3,"c3":-0.3,"c4":-0.3,"c5":-0.9,"c6":-0.4},
{"id":19,"c1":-0.9,"c2":-1.2,"c3":-0.2,"c4":0.1,"c5":-0.5,"c6":-1.0},
{"id":20,"c1":-1.1,"c2":-0.7,"c3":-0.1,"c4":-0.2,"c5":-1.1,"c6":-1.4},
{"id":21,"c1":-0.3,"c2":-0.6,"c3":-0.2,"c4":-0.4,"c5":-0.7,"c6":-0.6},
{"id":22,"c1":0.5,"c2":0.3,"c3":-0.2,"c4":0.0,"c5":0.6,"c6":0.8},
{"id":23,"c1":-1.3,"c2":-1.1,"c3":-0.3,"c4":-0.2,"c5":-1.5,"c6":-1.9},
{"id":24,"c1":-0.1,"c2":0.0,"c3":-0.1,"c4":-0.1,"c5":-0.1,"c6":-0.2},
{"id":25,"c1":-0.6,"c2":-0.9,"c3":-0.2,"c4":-0.3,"c5":-0.8,"c6":-1.1}]},
"transform": [{"fold": ["c1","c2","c3","c4","c5","c6"], "as": ["c", "v"]}],
"mark": {"type": "line", "color": "#f0372b", "strokeWidth": 1.1, "point": {"shape": "square", "size": 8, "color": "#f0372b"}},
"encoding": {"x": {"field": "c", "type": "nominal"}, "y": {"field": "v", "type": "quantitative", "axis": null}, "detail": {"field": "id"}}},
{"data": {"values": [{"c":"c1","t":"-0.25"},{"c":"c2","t":"-0.25"},{"c":"c3","t":"0.06"},{"c":"c4","t":"0.01"},{"c":"c5","t":"-0.34"},{"c":"c6","t":"-0.40"}]},
"mark": {"type": "text", "fontSize": 19}, "encoding": {"x": {"field": "c", "type": "nominal"}, "y": {"datum": 4.0, "type": "quantitative", "axis": null}, "text": {"field": "t"}}},
{"data": {"values": [{"n": "25 Proteins"}]}, "mark": {"type": "text", "fontSize": 19.5, "dx": 40},
"encoding": {"x": {"datum": "c3", "type": "nominal"}, "y": {"datum": -2.9, "type": "quantitative", "axis": null}, "text": {"field": "n"}}}
]
},
{
"width": 470, "height": 134,
"title": {"text": "GOCC Extracellular Matrix", "fontSize": 19.5, "offset": 10},
"resolve": {"axis": {"y": "independent"}},
"layer": [
{"data": {"name": "band"}, "mark": {"type": "area", "color": "#a8a8a8"},
"encoding": {"x": {"field": "c", "type": "nominal", "scale": {"type": "point", "domain": ["c1","c2","c3","c4","c5","c6"], "padding": 0.423}, "axis": {"title": null, "ticks": false, "domain": false, "grid": true, "gridColor": "#e4e4e4", "labelAngle": 90, "labelAlign": "left", "labelBaseline": "middle", "labelFont": "DejaVu Sans", "labelFontSize": 17, "labelPadding": 3, "labelExpr": "['FFPE1/FF1','FFPE1/FF2','FF1/FF2','FF3/FF4','FFPE2/FF3','FFPE2/FF4'][indexof(['c1','c2','c3','c4','c5','c6'], datum.value)]"}},
"y": {"field": "lo", "type": "quantitative", "scale": {"domain": [-5, 4.2], "nice": false, "zero": false}, "axis": {"title": null, "values": [-4,-2,0,2,4], "grid": false, "labelOverlap": false, "labelAngle": -90, "labelAlign": "center", "labelBaseline": "bottom", "labelFontSize": 18, "labelPadding": 3, "tickSize": 4, "domainColor": "#666", "tickColor": "#666"}},
"y2": {"field": "hi"}}},
{"data": {"name": "bg"}, "transform": [{"fold": ["c1","c2","c3","c4","c5","c6"], "as": ["c", "v"]}],
"mark": {"type": "line", "color": "#c4c4c4", "strokeWidth": 0.8, "point": {"shape": "square", "size": 5, "color": "#b8b8b8"}},
"encoding": {"x": {"field": "c", "type": "nominal"}, "y": {"field": "v", "type": "quantitative", "axis": null}, "detail": {"field": "id"}}},
{"data": {"values": [
{"id":1,"c1":0.9,"c2":0.9,"c3":0.2,"c4":0.5,"c5":1.2,"c6":1.4},
{"id":2,"c1":0.6,"c2":0.4,"c3":0.1,"c4":0.3,"c5":0.2,"c6":0.6},
{"id":3,"c1":0.3,"c2":0.5,"c3":0.0,"c4":0.1,"c5":-0.3,"c6":0.0},
{"id":4,"c1":0.1,"c2":0.2,"c3":0.1,"c4":0.2,"c5":-0.6,"c6":-0.5},
{"id":5,"c1":-0.1,"c2":-0.2,"c3":0.0,"c4":0.0,"c5":-0.5,"c6":-0.9},
{"id":6,"c1":-0.3,"c2":-0.1,"c3":0.2,"c4":0.4,"c5":-0.8,"c6":-1.0},
{"id":7,"c1":-0.4,"c2":-0.5,"c3":0.1,"c4":0.2,"c5":-1.0,"c6":-0.8},
{"id":8,"c1":-0.5,"c2":-0.4,"c3":0.0,"c4":-0.1,"c5":-0.9,"c6":-1.2},
{"id":9,"c1":-0.6,"c2":-0.7,"c3":0.1,"c4":0.1,"c5":-1.1,"c6":-1.1},
{"id":10,"c1":-0.7,"c2":-0.5,"c3":0.2,"c4":0.3,"c5":-1.2,"c6":-1.4},
{"id":11,"c1":-0.8,"c2":-0.9,"c3":0.0,"c4":0.0,"c5":-1.3,"c6":-1.3},
{"id":12,"c1":-0.9,"c2":-0.8,"c3":0.1,"c4":0.2,"c5":-1.0,"c6":-1.5},
{"id":13,"c1":-1.0,"c2":-1.0,"c3":0.0,"c4":0.1,"c5":-1.4,"c6":-1.6},
{"id":14,"c1":-1.0,"c2":-1.1,"c3":0.1,"c4":-0.1,"c5":-1.5,"c6":-1.2},
{"id":15,"c1":-1.1,"c2":-0.9,"c3":0.1,"c4":0.2,"c5":-1.2,"c6":-1.7},
{"id":16,"c1":-1.2,"c2":-1.2,"c3":0.0,"c4":0.1,"c5":-1.6,"c6":-1.8},
{"id":17,"c1":-1.2,"c2":-1.0,"c3":0.2,"c4":0.3,"c5":-1.7,"c6":-1.5},
{"id":18,"c1":-1.3,"c2":-1.3,"c3":0.1,"c4":0.0,"c5":-1.5,"c6":-2.0},
{"id":19,"c1":-1.4,"c2":-1.2,"c3":0.0,"c4":0.2,"c5":-1.8,"c6":-1.9},
{"id":20,"c1":-1.5,"c2":-1.4,"c3":0.1,"c4":0.1,"c5":-2.0,"c6":-1.6},
{"id":21,"c1":-1.6,"c2":-1.5,"c3":0.0,"c4":0.0,"c5":-1.9,"c6":-2.1},
{"id":22,"c1":-1.7,"c2":-1.6,"c3":0.1,"c4":0.2,"c5":-2.1,"c6":-2.2},
{"id":23,"c1":-1.8,"c2":-1.7,"c3":0.2,"c4":0.4,"c5":-2.2,"c6":-2.0},
{"id":24,"c1":-1.9,"c2":-1.8,"c3":0.0,"c4":0.1,"c5":-1.8,"c6":-2.3},
{"id":25,"c1":-2.0,"c2":-1.9,"c3":0.1,"c4":-0.1,"c5":-2.3,"c6":-2.4},
{"id":26,"c1":-2.1,"c2":-2.0,"c3":0.0,"c4":0.2,"c5":-2.4,"c6":-2.2},
{"id":27,"c1":-2.2,"c2":-2.3,"c3":0.1,"c4":0.0,"c5":-2.0,"c6":-2.6},
{"id":28,"c1":-2.4,"c2":-2.2,"c3":0.0,"c4":0.1,"c5":-2.2,"c6":-2.7},
{"id":29,"c1":-2.5,"c2":-2.5,"c3":0.1,"c4":0.3,"c5":-1.6,"c6":-2.5},
{"id":30,"c1":-2.7,"c2":-2.6,"c3":0.0,"c4":0.0,"c5":-2.3,"c6":-2.9},
{"id":31,"c1":-2.8,"c2":-2.8,"c3":0.1,"c4":0.2,"c5":-1.4,"c6":-3.0},
{"id":32,"c1":-3.3,"c2":-3.3,"c3":0.0,"c4":0.1,"c5":-1.9,"c6":-2.8},
{"id":33,"c1":-0.2,"c2":0.0,"c3":0.1,"c4":0.6,"c5":-0.7,"c6":-0.3},
{"id":34,"c1":-0.6,"c2":-0.3,"c3":0.2,"c4":0.1,"c5":-0.4,"c6":-0.7},
{"id":35,"c1":-0.9,"c2":-1.2,"c3":0.0,"c4":-0.2,"c5":-1.3,"c6":-1.0},
{"id":36,"c1":-1.3,"c2":-0.9,"c3":0.1,"c4":0.2,"c5":-1.1,"c6":-1.3},
{"id":37,"c1":-1.1,"c2":-1.4,"c3":0.2,"c4":0.0,"c5":-1.7,"c6":-1.1},
{"id":38,"c1":-1.6,"c2":-1.8,"c3":0.0,"c4":0.3,"c5":-1.5,"c6":-1.4},
{"id":39,"c1":-0.4,"c2":-0.6,"c3":0.1,"c4":0.1,"c5":-0.9,"c6":-0.6},
{"id":40,"c1":-2.0,"c2":-1.5,"c3":0.1,"c4":0.0,"c5":-1.2,"c6":-1.9},
{"id":41,"c1":-0.8,"c2":-1.1,"c3":0.0,"c4":0.2,"c5":-2.0,"c6":-1.7},
{"id":42,"c1":-1.4,"c2":-1.6,"c3":0.1,"c4":0.1,"c5":-0.8,"c6":-1.2},
{"id":43,"c1":-2.3,"c2":-2.1,"c3":0.2,"c4":0.3,"c5":-2.4,"c6":-2.3},
{"id":44,"c1":0.2,"c2":-0.2,"c3":0.0,"c4":0.0,"c5":-0.2,"c6":0.2},
{"id":45,"c1":-1.9,"c2":-2.4,"c3":0.1,"c4":0.4,"c5":-1.6,"c6":-2.1}]},
"transform": [{"fold": ["c1","c2","c3","c4","c5","c6"], "as": ["c", "v"]}],
"mark": {"type": "line", "color": "#f0372b", "strokeWidth": 1.1, "point": {"shape": "square", "size": 8, "color": "#f0372b"}},
"encoding": {"x": {"field": "c", "type": "nominal"}, "y": {"field": "v", "type": "quantitative", "axis": null}, "detail": {"field": "id"}}},
{"data": {"values": [{"c":"c1","t":"-0.99"},{"c":"c2","t":"-0.90"},{"c":"c3","t":"0.04"},{"c":"c4","t":"0.12"},{"c":"c5","t":"-1.22"},{"c":"c6","t":"-1.34"}]},
"mark": {"type": "text", "fontSize": 19}, "encoding": {"x": {"field": "c", "type": "nominal"}, "y": {"datum": 4.0, "type": "quantitative", "axis": null}, "text": {"field": "t"}}},
{"data": {"values": [{"n": "45 Proteins"}]}, "mark": {"type": "text", "fontSize": 19.5, "dx": 42},
"encoding": {"x": {"datum": "c3", "type": "nominal"}, "y": {"datum": -2.5, "type": "quantitative", "axis": null}, "text": {"field": "n"}}}
]
}
]
}
]
}]
}]
}
]
}
